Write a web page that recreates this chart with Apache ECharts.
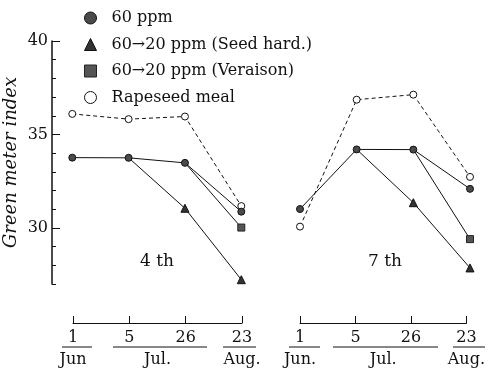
<!DOCTYPE html>
<html>
<head>
<meta charset="utf-8">
<script src="https://cdn.jsdelivr.net/npm/echarts@6/dist/echarts.min.js"></script>
<style>html,body{margin:0;padding:0;background:#fff}#c{width:488px;height:372px}</style>
</head>
<body>
<div id="c"></div>
<script>
// ---- data ----
var dayLabels = ['1', '5', '26', '23'];
var monthLabels = ['Jun', 'Jul.', 'Aug.'];
var monthLabels7 = ['Jun.', 'Jul.', 'Aug.'];
var monthPos = [0, 1.5, 3];
var xIdx = [0, 1, 2, 3];
var seriesNames = ['60 ppm', '60\u219220 ppm (Seed hard.)', '60\u219220 ppm (Veraison)', 'Rapeseed meal'];
var panelLabels = ['4 th', '7 th'];
var yTicks = [30, 35, 40];

var p60_4  = [33.76, 33.75, 33.48, 30.87];
var seed_4 = [null, 33.75, 31.05, 27.23];
var ver_4  = [null, null, 33.48, 30.02];
var rape_4 = [36.10, 35.82, 35.96, 31.17];

var p60_7  = [31.01, 34.20, 34.19, 32.09];
var seed_7 = [null, 34.20, 31.35, 27.86];
var ver_7  = [null, null, 34.19, 29.40];
var rape_7 = [30.07, 36.86, 37.13, 32.73];

// ---- chart ----
var FONT = 'DejaVu Serif';
var chart = echarts.init(document.getElementById('c'));

function pts(arr) {
  var out = [];
  for (var i = 0; i < arr.length; i++) {
    if (arr[i] === null) continue;
    var prevNull = (i === 0 || arr[i - 1] === null);
    // branch point shares the 60 ppm marker: hide own symbol there
    if (prevNull && i > 0) out.push({ value: [xIdx[i], arr[i]], symbol: 'none' });
    else out.push([xIdx[i], arr[i]]);
  }
  return out;
}

var styles = [
  { symbol: 'circle', symbolSize: 7, item: { color: '#4a4a4a', borderColor: '#111', borderWidth: 1 }, line: { color: '#111', width: 1 }, z: 5 },
  { symbol: 'triangle', symbolSize: 8, item: { color: '#333', borderColor: '#111', borderWidth: 1 }, line: { color: '#111', width: 1 }, z: 4 },
  { symbol: 'rect', symbolSize: 7, item: { color: '#555', borderColor: '#222', borderWidth: 1 }, line: { color: '#111', width: 1 }, z: 4 },
  { symbol: 'circle', symbolSize: 7, item: { color: '#fff', borderColor: '#111', borderWidth: 1 }, line: { color: '#111', width: 1, type: [4, 3] }, z: 3 }
];

var panelData = [[p60_4, seed_4, ver_4, rape_4], [p60_7, seed_7, ver_7, rape_7]];
var series = [];
for (var p = 0; p < 2; p++) {
  for (var s = 0; s < 4; s++) {
    var st = styles[s];
    series.push({
      type: 'line', name: seriesNames[s], xAxisIndex: p, yAxisIndex: p === 0 ? 0 : 1,
      data: pts(panelData[p][s]), symbol: st.symbol, symbolSize: st.symbolSize,
      showSymbol: true, itemStyle: st.item, lineStyle: st.line, z: st.z,
      clip: false, animation: false, silent: true, connectNulls: false
    });
  }
}

var legendIcons = ['circle', 'triangle', 'rect', 'circle'];
var legendData = seriesNames.map(function (n, i) {
  return { name: n, icon: legendIcons[i], itemStyle: styles[i].item };
});

function dayFmt(v) { return dayLabels[Math.round(v)]; }

var option = {
  animation: false,
  legend: {
    orient: 'vertical', left: 79, top: 4, itemWidth: 12, itemHeight: 12, itemGap: 8.5,
    data: legendData, selectedMode: false,
    textStyle: { fontFamily: FONT, fontSize: 16, color: '#111', padding: [0, 0, 0, 10], lineHeight: 18 }
  },
  grid: [
    { left: 52, top: 41, width: 189.3, height: 243 },
    { left: 300, top: 41, width: 170, height: 243 },
    { left: 73, top: 322, width: 169, height: 1 },
    { left: 300, top: 322, width: 170, height: 1 },
    { left: 52, top: 41, width: 189.3, height: 243 }
  ],
  xAxis: [
    { gridIndex: 0, type: 'value', min: -0.36, max: 3, show: false },
    { gridIndex: 1, type: 'value', min: 0, max: 3, show: false },
    { gridIndex: 2, type: 'value', min: 0, max: 3, interval: 1, position: 'bottom',
      axisLine: { onZero: false, lineStyle: { color: '#111', width: 1 } },
      axisTick: { inside: true, length: 7, lineStyle: { color: '#111' } },
      splitLine: { show: false },
      axisLabel: { formatter: dayFmt, margin: 7, fontFamily: FONT, fontSize: 16, color: '#111' } },
    { gridIndex: 3, type: 'value', min: 0, max: 3, interval: 1, position: 'bottom',
      axisLine: { onZero: false, lineStyle: { color: '#111', width: 1 } },
      axisTick: { inside: true, length: 7, lineStyle: { color: '#111' } },
      splitLine: { show: false },
      axisLabel: { formatter: dayFmt, margin: 7, fontFamily: FONT, fontSize: 16, color: '#111' } },
    { gridIndex: 2, type: 'value', min: 0, max: 3, position: 'bottom', offset: 20,
      axisLine: { show: false, onZero: false }, axisTick: { show: false }, splitLine: { show: false },
      axisLabel: { customValues: monthPos, margin: 9, fontFamily: FONT, fontSize: 16, color: '#111',
        formatter: function (v) { return monthLabels[monthPos.indexOf(v)]; } } },
    { gridIndex: 3, type: 'value', min: 0, max: 3, position: 'bottom', offset: 20,
      axisLine: { show: false, onZero: false }, axisTick: { show: false }, splitLine: { show: false },
      axisLabel: { customValues: monthPos, margin: 9, fontFamily: FONT, fontSize: 16, color: '#111',
        formatter: function (v) { return monthLabels7[monthPos.indexOf(v)]; } } },
    { gridIndex: 4, type: 'value', min: 0, max: 1, show: false }
  ],
  yAxis: [
    { gridIndex: 0, type: 'value', min: 27, max: 40, interval: 1, position: 'left',
      axisLine: { show: true, onZero: false, lineStyle: { color: '#111', width: 1.5 } },
      axisTick: { show: true, inside: true, length: 4, lineStyle: { color: '#111', width: 1 } },
      axisLabel: { show: false }, splitLine: { show: false },
      name: 'Green meter index', nameLocation: 'middle', nameRotate: 90, nameGap: 32,
      nameTextStyle: { fontFamily: FONT, fontStyle: 'italic', fontSize: 18, color: '#111' } },
    { gridIndex: 1, type: 'value', min: 27, max: 40, show: false, splitLine: { show: false } },
    { gridIndex: 2, type: 'value', min: 0, max: 1, show: false, splitLine: { show: false } },
    { gridIndex: 3, type: 'value', min: 0, max: 1, show: false, splitLine: { show: false } },
    { gridIndex: 4, type: 'value', min: 27, max: 40, position: 'left',
      axisLine: { show: false, onZero: false },
      axisTick: { show: true, inside: true, length: 8, customValues: yTicks, lineStyle: { color: '#111', width: 1 } },
      axisLabel: { customValues: yTicks, margin: 4, fontFamily: FONT, fontSize: 16, color: '#111' },
      splitLine: { show: false } }
  ],
  graphic: [
    { type: 'text', left: 140, top: 253, style: { text: panelLabels[0], font: '17px "' + FONT + '"', fill: '#111' } },
    { type: 'text', left: 368, top: 253, style: { text: panelLabels[1], font: '17px "' + FONT + '"', fill: '#111' } },
    { type: 'line', shape: { x1: 62, y1: 347, x2: 92, y2: 347 }, style: { stroke: '#111', lineWidth: 1 } },
    { type: 'line', shape: { x1: 113, y1: 347, x2: 207, y2: 347 }, style: { stroke: '#111', lineWidth: 1 } },
    { type: 'line', shape: { x1: 223, y1: 347, x2: 256, y2: 347 }, style: { stroke: '#111', lineWidth: 1 } },
    { type: 'line', shape: { x1: 289, y1: 347, x2: 320, y2: 347 }, style: { stroke: '#111', lineWidth: 1 } },
    { type: 'line', shape: { x1: 333, y1: 347, x2: 438, y2: 347 }, style: { stroke: '#111', lineWidth: 1 } },
    { type: 'line', shape: { x1: 453, y1: 347, x2: 485, y2: 347 }, style: { stroke: '#111', lineWidth: 1 } }
  ],
  series: series
};
chart.setOption(option);
</script>
</body>
</html>
